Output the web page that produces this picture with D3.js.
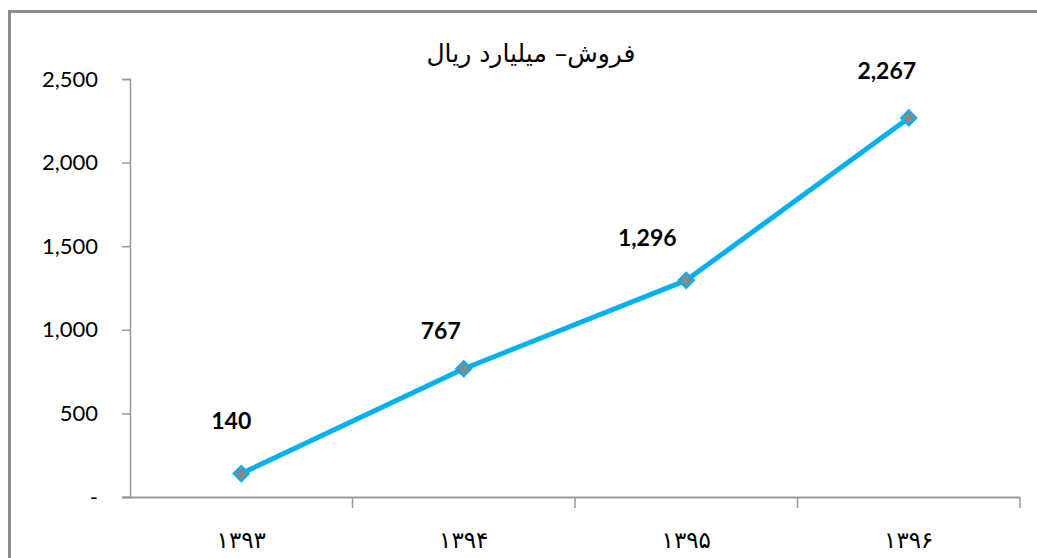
<!DOCTYPE html>
<html>
<head>
<meta charset="utf-8">
<script src="https://cdn.jsdelivr.net/npm/d3@7"></script>
<style>
  body { margin: 0; background: #fff; }
  svg { display: block; }
</style>
</head>
<body>
<svg id="chart" width="1037" height="558"></svg>
<script>
const years = ["۱۳۹۳", "۱۳۹۴", "۱۳۹۵", "۱۳۹۶"];
const sales = [140, 767, 1296, 2267];
const yTicks = [0, 500, 1000, 1500, 2000, 2500];
const titleText = "فروش– میلیارد ریال";

// label nudges as placed in the original
const labelOffsets = [[-10, -50], [-23, -36], [-39, -40], [-22, -45]];

const svg = d3.select("#chart");
const width = 1037;
const height = 558;
const margin = { top: 79, right: 17, bottom: 61, left: 130 };

// outer frame (left + top visible)
svg.append("path")
  .attr("d", `M9.5,${height} L9.5,11.5 L${width},11.5`)
  .attr("fill", "none")
  .attr("stroke", "#8c8c8c")
  .attr("stroke-width", 3);

const x = d3.scaleBand()
  .domain(years)
  .range([margin.left, width - margin.right]);

const y = d3.scaleLinear()
  .domain([0, 2500])
  .range([height - margin.bottom, margin.top]);

const yAxis = svg.append("g")
  .attr("transform", `translate(${margin.left},0)`)
  .call(d3.axisLeft(y)
    .tickValues(yTicks)
    .tickSize(8)
    .tickPadding(24)
    .tickFormat(d => d === 0 ? "-" : d3.format(",")(d)));

yAxis.selectAll("text")
  .attr("font-family", "Lato, 'Open Sans', sans-serif")
  .attr("font-size", "22px")
  .attr("fill", "#000");

const xAxis = svg.append("g")
  .attr("transform", `translate(0,${height - margin.bottom})`)
  .call(d3.axisBottom(x).tickSize(0).tickPadding(35));

xAxis.selectAll("text")
  .attr("font-family", "'DejaVu Sans', sans-serif")
  .attr("font-size", "23px")
  .attr("fill", "#000");

// category dividers below the axis
xAxis.selectAll(".divider")
  .data(years)
  .enter()
  .append("line")
  .attr("x1", d => x(d) + x.bandwidth())
  .attr("x2", d => x(d) + x.bandwidth())
  .attr("y1", 0)
  .attr("y2", 11)
  .attr("stroke", "#9a9a9a")
  .attr("stroke-width", 1.5);

svg.selectAll(".domain, .tick line")
  .attr("stroke", "#9a9a9a")
  .attr("stroke-width", 1.5);
xAxis.select(".domain").attr("d", `M${margin.left - 8},0.5H${width - margin.right}`).attr("stroke-width", 2);

const cx = (d, i) => x(years[i]) + x.bandwidth() / 2;

svg.append("path")
  .datum(sales)
  .attr("fill", "none")
  .attr("stroke", "#00B0F0")
  .attr("stroke-width", 5)
  .attr("stroke-linejoin", "round")
  .attr("d", d3.line().x(cx).y(d => y(d)));

svg.selectAll(".marker")
  .data(sales)
  .enter()
  .append("path")
  .attr("transform", (d, i) => `translate(${cx(d, i)},${y(d)})`)
  .attr("d", d3.symbol().type(d3.symbolDiamond2).size(150))
  .attr("fill", "#7f8c8f")
  .attr("stroke", "#00B0F0")
  .attr("stroke-width", 2);

svg.selectAll(".label")
  .data(sales)
  .enter()
  .append("text")
  .attr("x", (d, i) => cx(d, i) + labelOffsets[i][0])
  .attr("y", (d, i) => y(d) + labelOffsets[i][1])
  .attr("text-anchor", "middle")
  .attr("dominant-baseline", "middle")
  .attr("font-family", "Lato, 'Open Sans', sans-serif")
  .attr("font-weight", "bold")
  .attr("font-size", "23px")
  .text(d => d3.format(",")(d));

svg.append("text")
  .attr("x", 531)
  .attr("y", 62)
  .attr("text-anchor", "middle")
  .attr("direction", "rtl")
  .attr("font-family", "'DejaVu Sans', sans-serif")
  .attr("font-size", "25px")
  .text(titleText);
</script>
</body>
</html>
